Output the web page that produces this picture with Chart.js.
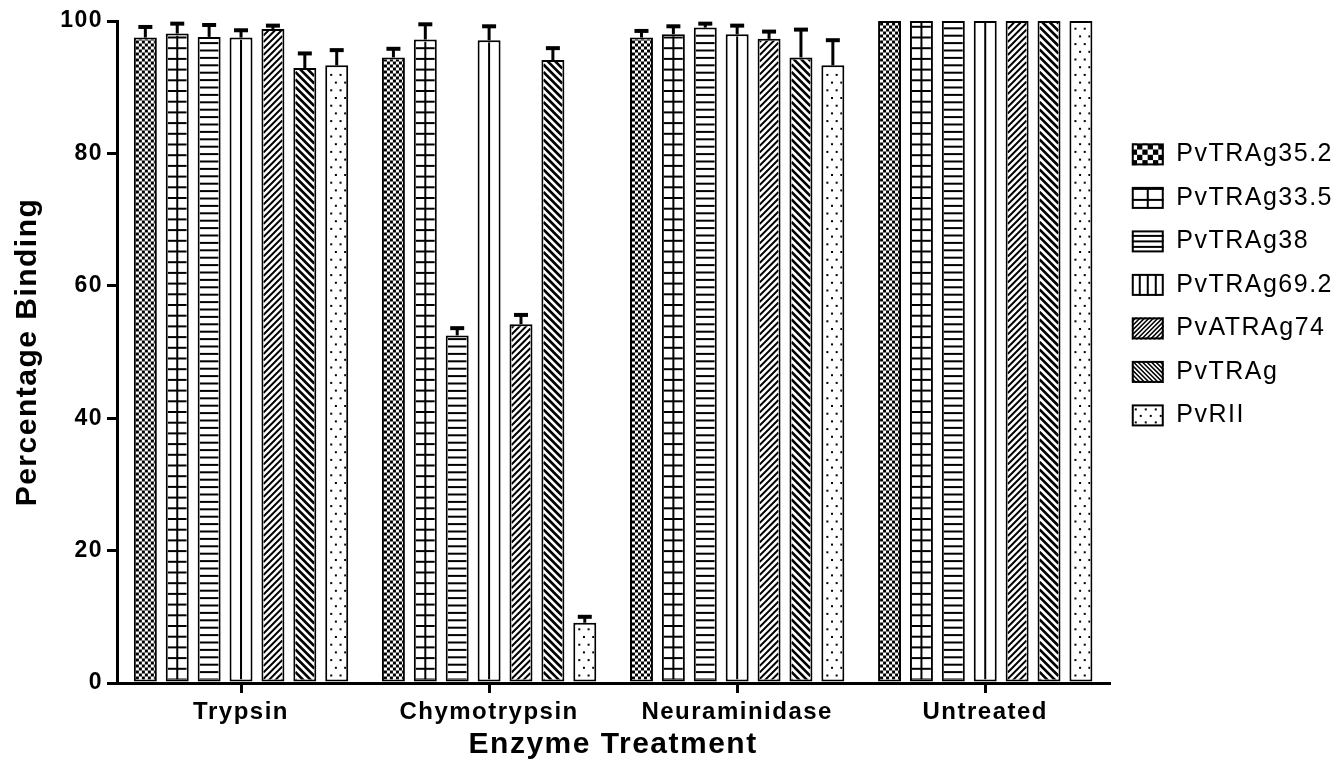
<!DOCTYPE html>
<html>
<head>
<meta charset="utf-8">
<script src="https://cdn.jsdelivr.net/npm/chart.js@4/dist/chart.umd.min.js"></script>
<style>
  body { margin: 0; background: #fff; }
</style>
</head>
<body>
<canvas id="bindingChart" width="1340" height="766"></canvas>
<script>
// Categories and series
const treatments = ['Trypsin', 'Chymotrypsin', 'Neuraminidase', 'Untreated'];
const seriesNames = ['PvTRAg35.2', 'PvTRAg33.5', 'PvTRAg38', 'PvTRAg69.2', 'PvATRAg74', 'PvTRAg', 'PvRII'];
const yTicks = [0, 20, 40, 60, 80, 100];

const pvTRAg352 = [97.5, 94.5, 97.5, 100];
const pvTRAg335 = [98.1, 97.2, 98.0, 100];
const pvTRAg38 = [97.6, 52.5, 99.0, 100];
const pvTRAg692 = [97.5, 97.1, 98.0, 100];
const pvATRAg74 = [98.8, 54.2, 97.3, 100];
const pvTRAg = [92.9, 94.1, 94.5, 100];
const pvRII = [93.3, 9.1, 93.3, 100];

// upper error (SD) per bar
const err352 = [1.6, 1.3, 1.0, 0];
const err335 = [1.5, 2.3, 1.2, 0];
const err38 = [1.8, 1.1, 0.6, 0];
const err692 = [1.1, 2.1, 1.3, 0];
const err74 = [0.5, 1.4, 1.1, 0];
const errTRAg = [2.2, 1.8, 4.2, 0];
const errRII = [2.3, 0.9, 3.8, 0];

const values = [pvTRAg352, pvTRAg335, pvTRAg38, pvTRAg692, pvATRAg74, pvTRAg, pvRII];
const errors = [err352, err335, err38, err692, err74, errTRAg, errRII];
const patterns = ['checker', 'grid', 'hlines', 'vline', 'fdiag', 'bdiag', 'dots'];

const FONT = "'Liberation Sans', Arial, sans-serif";
const SPACING = '1.5px';

// Draw a fill pattern inside a rect, anchored at its left/bottom edge
function drawPattern(ctx, kind, x, y, w, h, small) {
    ctx.save();
    ctx.beginPath();
    ctx.rect(x, y, w, h);
    ctx.clip();
    ctx.fillStyle = '#000';
    ctx.strokeStyle = '#000';
    const bottom = y + h;
    if (kind === 'checker') {
        const c = small ? 5.3 : 3;
        let row = 0;
        for (let yy = bottom; yy > y - c; yy -= c, row++) {
            let col = 0;
            for (let xx = x; xx < x + w; xx += c, col++) {
                if ((row + col) % 2 === 0) ctx.fillRect(xx, yy - c, c, c);
            }
        }
    } else if (kind === 'grid') {
        ctx.fillRect(x + w / 2 - 1, y, 2, h);
        const step = small ? 11 : 10.7;
        for (let yy = bottom - (small ? 9 : 0); yy > y; yy -= step) ctx.fillRect(x, yy - 1, w, 2);
    } else if (kind === 'hlines') {
        const step = small ? 5.5 : 7.4;
        for (let yy = bottom - (small ? 5.5 : 0); yy > y; yy -= step) ctx.fillRect(x, yy - 1, w, 2);
    } else if (kind === 'vline') {
        if (small) {
            for (let k = 1; k <= 3; k++) ctx.fillRect(x + w * k / 4 - 1, y, 2, h);
        } else {
            ctx.fillRect(x + w / 2 - 1, y, 2, h);
        }
    } else if (kind === 'fdiag' || kind === 'bdiag') {
        const step = small ? 4.5 : (kind === 'fdiag' ? 6.5 : 7.5);
        ctx.lineWidth = small ? 1.5 : (kind === 'fdiag' ? 2 : 2.6);
        ctx.beginPath();
        for (let o = -w; o < h + w; o += step) {
            if (kind === 'fdiag') {
                ctx.moveTo(x, bottom - o);
                ctx.lineTo(x + w, bottom - o - w);
            } else {
                ctx.moveTo(x, bottom - o - w);
                ctx.lineTo(x + w, bottom - o);
            }
        }
        ctx.stroke();
    } else if (kind === 'dots') {
        const sx = small ? 10 : 9.3;
        const sy = small ? 6.5 : 7.7;
        let row = 0;
        for (let yy = bottom - 4; yy > y; yy -= sy, row++) {
            const off = row % 2 ? sx / 2 : 0;
            for (let xx = x + 4 + off; xx < x + w - 1; xx += sx) ctx.fillRect(xx - 1, yy - 1, 2, 2);
        }
    }
    ctx.restore();
}

const patternPlugin = {
    id: 'patternFill',
    // the figure's lettering is a little spaced out
    beforeUpdate(chart) { chart.ctx.letterSpacing = SPACING; },
    beforeDraw(chart) { chart.ctx.letterSpacing = SPACING; },
    afterDatasetDraw(chart, args) {
        const ctx = chart.ctx;
        const kind = patterns[args.index];
        args.meta.data.forEach(bar => {
            const p = bar.getProps(['x', 'y', 'base', 'width'], true);
            const bw = 2;
            const left = p.x - p.width / 2 + bw;
            const top = Math.min(p.y, p.base) + bw;
            const w = p.width - 2 * bw;
            const h = Math.abs(p.base - p.y) - 2 * bw;
            if (h > 0) drawPattern(ctx, kind, left, top, w, h, false);
        });
    },
    afterDatasetsDraw(chart) {
        // error bars (upper only)
        const ctx = chart.ctx;
        const yScale = chart.scales.y;
        ctx.save();
        ctx.strokeStyle = '#000';
        chart.data.datasets.forEach((ds, i) => {
            const meta = chart.getDatasetMeta(i);
            meta.data.forEach((bar, j) => {
                const e = errors[i][j];
                if (!e) return;
                const yTop = yScale.getPixelForValue(ds.data[j] + e);
                ctx.lineWidth = 3;
                ctx.beginPath();
                ctx.moveTo(bar.x, bar.y);
                ctx.lineTo(bar.x, yTop);
                ctx.stroke();
                ctx.lineWidth = 4;
                ctx.beginPath();
                ctx.moveTo(bar.x - 7, yTop);
                ctx.lineTo(bar.x + 7, yTop);
                ctx.stroke();
            });
        });
        ctx.restore();
    },
    afterDraw(chart) {
        // legend swatches
        const ctx = chart.ctx;
        const boxes = chart.legend.legendHitBoxes || [];
        boxes.forEach((hb, i) => {
            const bx = hb.left + 4;
            const by = hb.top + hb.height / 2 - 11;
            ctx.save();
            ctx.fillStyle = '#fff';
            ctx.fillRect(bx, by, 32, 22);
            drawPattern(ctx, patterns[i], bx, by, 32, 22, true);
            ctx.lineWidth = 2;
            ctx.strokeStyle = '#000';
            ctx.strokeRect(bx + 1, by + 1, 30, 20);
            ctx.restore();
        });
    }
};

const datasets = seriesNames.map((name, i) => ({
    label: name,
    data: values[i],
    backgroundColor: '#fff',
    borderColor: '#000',
    borderWidth: 2,
    borderSkipped: false,
    categoryPercentage: 0.9,
    barPercentage: 0.72
}));

new Chart(document.getElementById('bindingChart'), {
    type: 'bar',
    data: { labels: treatments, datasets: datasets },
    plugins: [patternPlugin],
    options: {
        responsive: false,
        animation: false,
        layout: { padding: { top: 21, right: -3, bottom: 0, left: 0 } },
        plugins: {
            tooltip: { enabled: false },
            legend: {
                position: 'right',
                align: 'start',
                title: { display: true, text: '', padding: { top: 0, bottom: 88 } },
                labels: {
                    boxWidth: 36,
                    boxHeight: 22,
                    padding: 18.5,
                    color: '#000',
                    font: { family: FONT, size: 25 },
                    generateLabels(chart) {
                        return chart.data.datasets.map((ds, i) => ({
                            text: ds.label,
                            fillStyle: 'rgba(0,0,0,0)',
                            strokeStyle: 'rgba(0,0,0,0)',
                            fontColor: '#000',
                            lineWidth: 0,
                            hidden: false,
                            datasetIndex: i
                        }));
                    }
                }
            }
        },
        scales: {
            x: {
                afterFit(scale) { scale.height = 83; },
                grid: { display: true, drawOnChartArea: false, drawTicks: true, tickLength: 10, offset: false, color: '#000', lineWidth: 3 },
                border: { display: true, color: '#000', width: 3 },
                ticks: { color: '#000', padding: 5, font: { family: FONT, size: 24, weight: 'bold' } },
                title: {
                    display: true,
                    text: 'Enzyme Treatment',
                    color: '#000',
                    padding: { top: 0, bottom: 3 },
                    font: { family: FONT, size: 30, weight: 'bold' }
                }
            },
            y: {
                min: 0,
                max: 100,
                afterFit(scale) { scale.width = 117; },
                afterBuildTicks(scale) { scale.ticks = yTicks.map(v => ({ value: v })); },
                grid: { display: true, drawOnChartArea: false, drawTicks: true, tickLength: 10, color: '#000', lineWidth: 3 },
                border: { display: true, color: '#000', width: 3 },
                ticks: { color: '#000', padding: 4, font: { family: FONT, size: 23, weight: 'bold' } },
                title: {
                    display: true,
                    text: 'Percentage Binding',
                    color: '#000',
                    padding: { top: 10, bottom: 0 },
                    font: { family: FONT, size: 30, weight: 'bold' }
                }
            }
        }
    }
});
</script>
</body>
</html>
